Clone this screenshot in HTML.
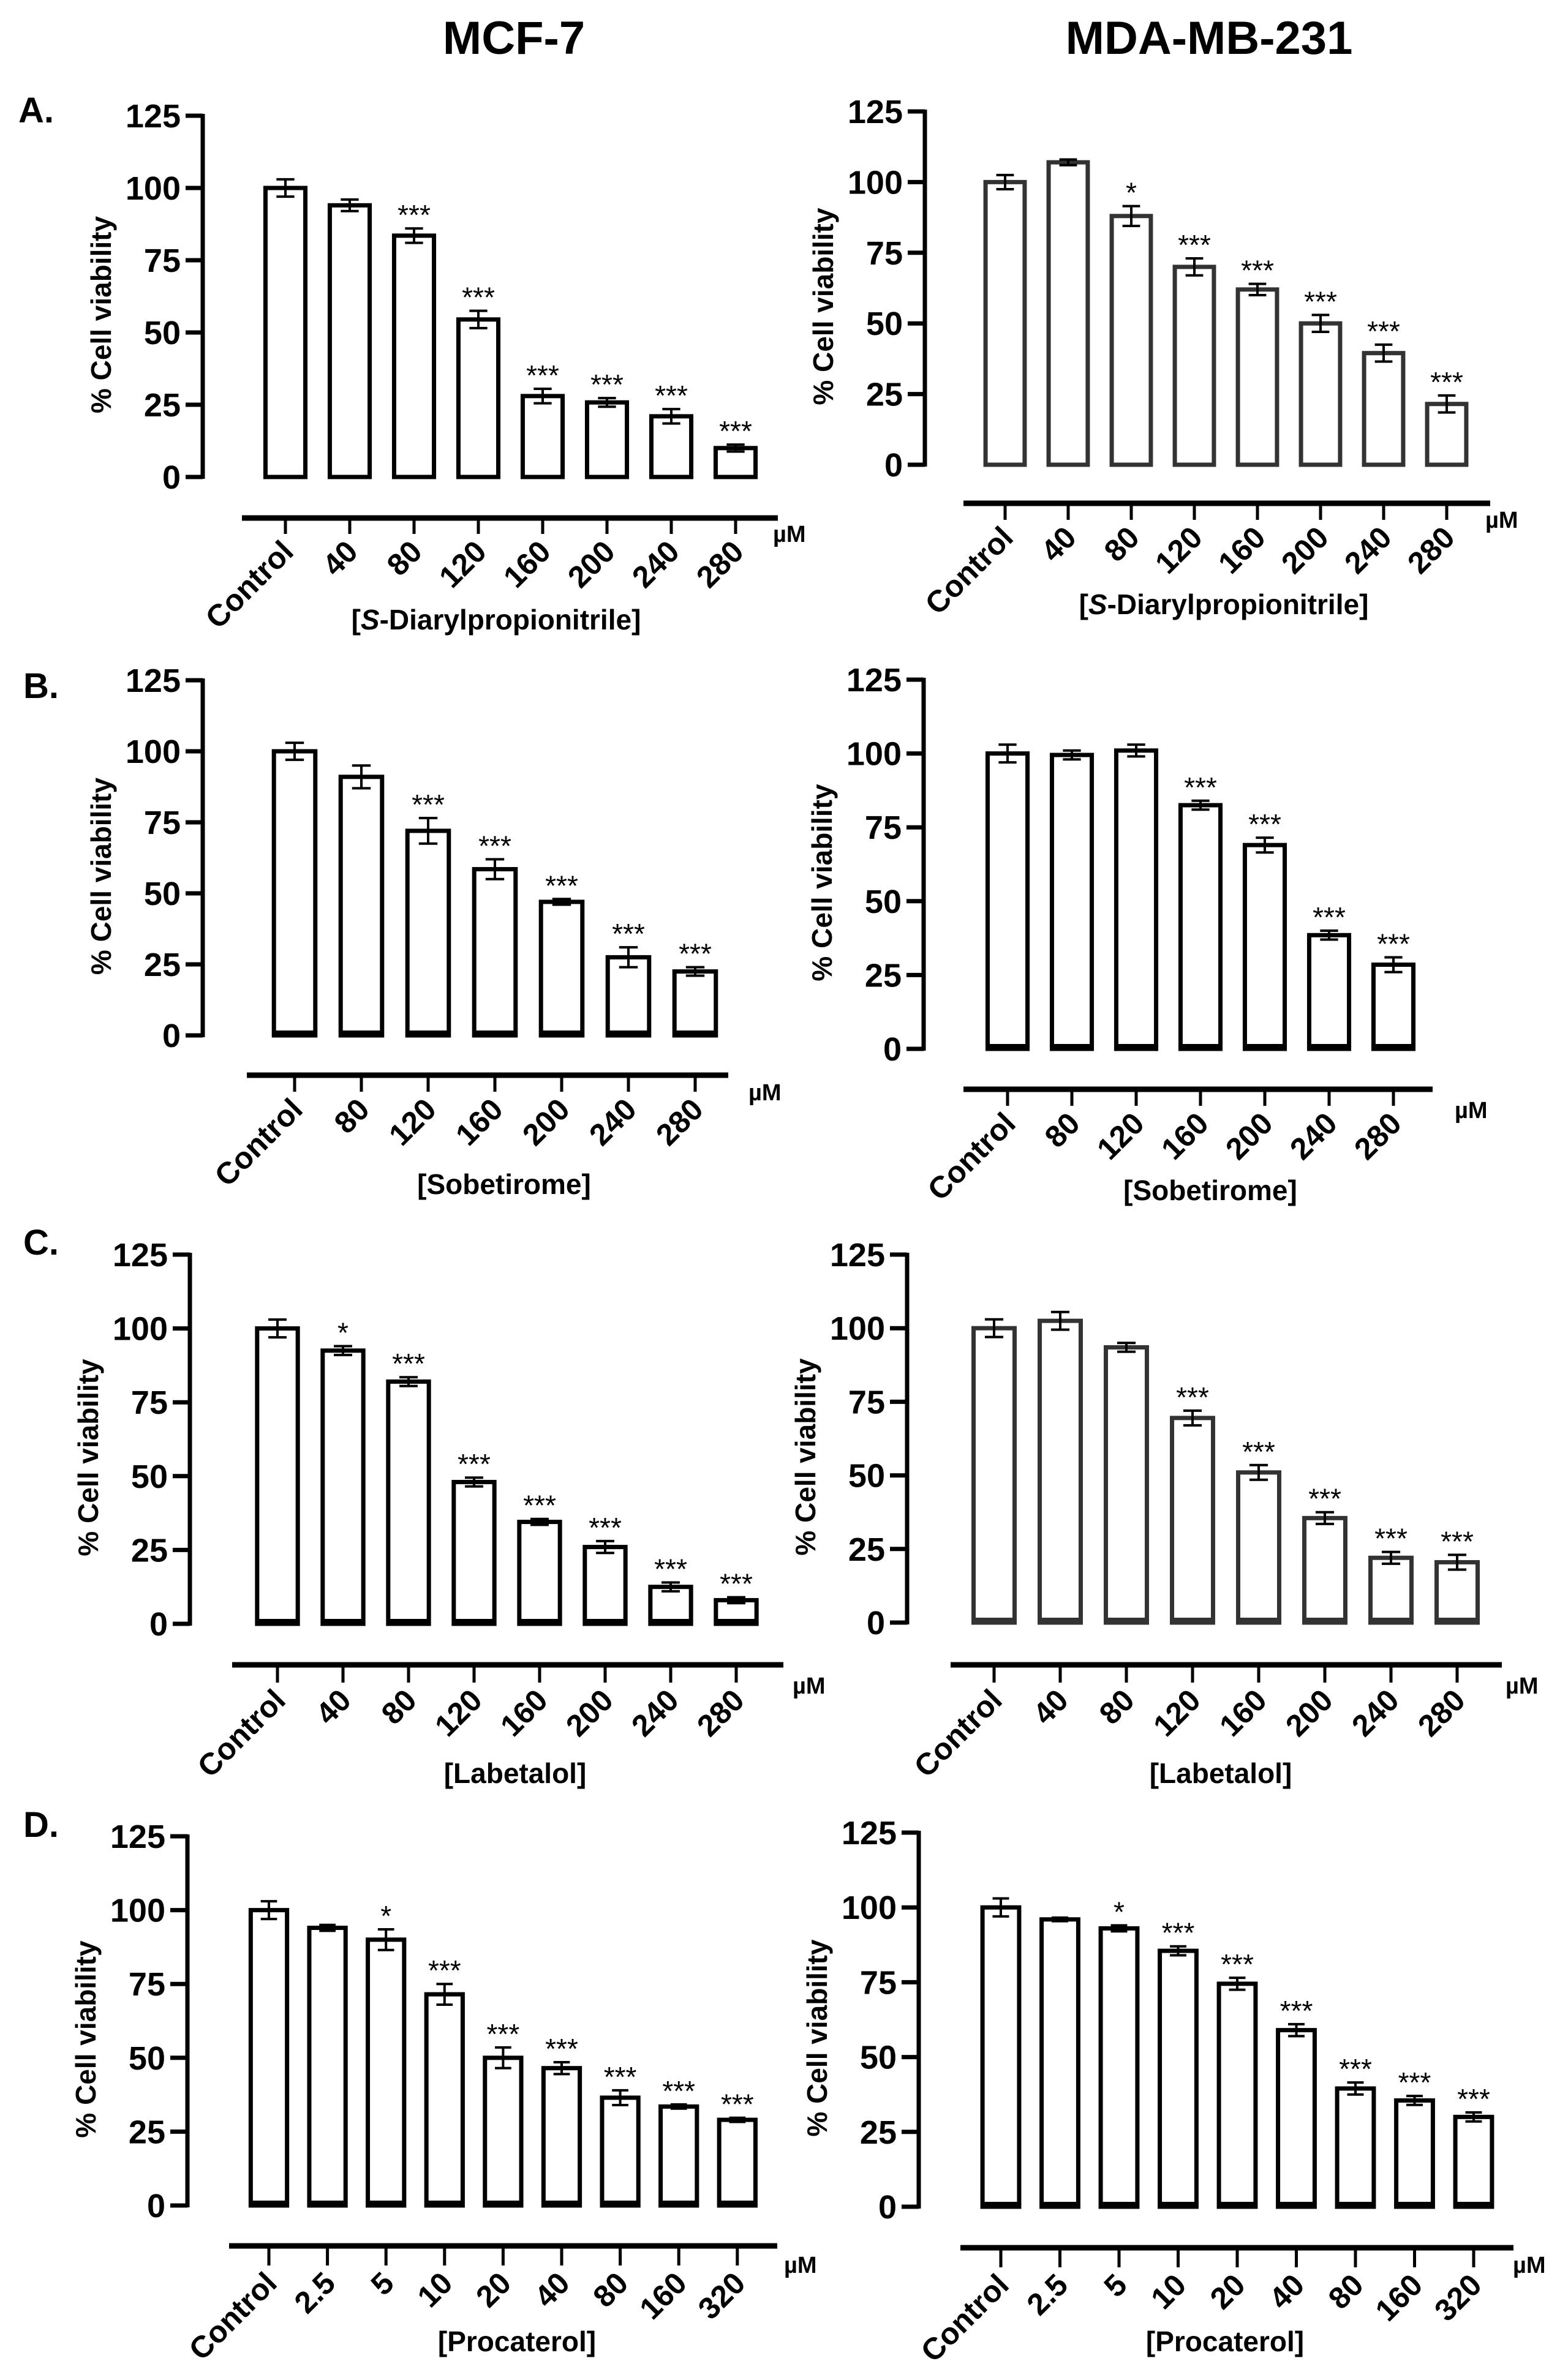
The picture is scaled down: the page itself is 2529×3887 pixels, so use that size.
<!DOCTYPE html>
<html><head><meta charset="utf-8"><style>
html,body{margin:0;padding:0;background:#fff}
svg{display:block}
text{font-family:"Liberation Sans Narrow","Liberation Sans",sans-serif}
</style></head><body>
<svg id="fig" width="2529" height="3887" viewBox="0 0 2529 3887" xmlns="http://www.w3.org/2000/svg">
<rect width="2529" height="3887" fill="#fff"/>
<text x="839" y="88" font-size="76" font-weight="bold" text-anchor="middle" style="font-family:'Liberation Sans',sans-serif">MCF-7</text>
<text x="1974" y="88" font-size="76" font-weight="bold" text-anchor="middle" style="font-family:'Liberation Sans',sans-serif">MDA-MB-231</text>
<text x="30" y="200" font-size="58" font-weight="bold" style="font-family:'Liberation Sans',sans-serif">A.</text>
<text x="38" y="1140" font-size="58" font-weight="bold" style="font-family:'Liberation Sans',sans-serif">B.</text>
<text x="38" y="2049" font-size="58" font-weight="bold" style="font-family:'Liberation Sans',sans-serif">C.</text>
<text x="38" y="3000" font-size="58" font-weight="bold" style="font-family:'Liberation Sans',sans-serif">D.</text>
</svg>
<script>
// ---- data ----
const yTicks = [0, 25, 50, 75, 100, 125];
const catsDPN = ["Control","40","80","120","160","200","240","280"];
const catsSob = ["Control","80","120","160","200","240","280"];
const catsLab = ["Control","40","80","120","160","200","240","280"];
const catsPro = ["Control","2.5","5","10","20","40","80","160","320"];

const valsAL = [100, 94, 83.5, 54.5, 28, 25.8, 21, 10];
const errsAL = [3, 2, 2.5, 3, 2.5, 1.5, 2.5, 1.2];
const sigAL  = ["", "", "***", "***", "***", "***", "***", "***"];

const valsAR = [100, 107, 88, 70, 62, 50, 39.5, 21.5];
const errsAR = [2.5, 1, 3.5, 3, 2, 3, 3, 3];
const sigAR  = ["", "", "*", "***", "***", "***", "***", "***"];

const valsBL = [100, 91, 72, 58.5, 47, 27.5, 22.5];
const errsBL = [3, 4, 4.5, 3.5, 1, 3.5, 1.5];
const sigBL  = ["", "", "***", "***", "***", "***", "***"];

const valsBR = [100, 99.5, 101, 82.5, 69, 38.5, 28.5];
const errsBR = [3, 1.5, 2, 1.5, 2.5, 1.5, 2.5];
const sigBR  = ["", "", "", "***", "***", "***", "***"];

const valsCL = [100, 92.5, 82, 48, 34.5, 26, 12.5, 8];
const errsCL = [3, 1.5, 1.5, 1.5, 1, 2, 1.5, 1];
const sigCL  = ["", "*", "***", "***", "***", "***", "***", "***"];

const valsCR = [100, 102.5, 93.5, 69.5, 51, 35.5, 22, 20.5];
const errsCR = [3, 3, 1.5, 2.5, 2.5, 2, 2, 2.5];
const sigCR  = ["", "", "", "***", "***", "***", "***", "***"];

const valsDL = [100, 94, 90, 71.5, 50, 46.5, 36.5, 33.5, 29];
const errsDL = [3, 1, 3.5, 3.5, 3.5, 2, 2.5, 0.7, 0.7];
const sigDL  = ["", "", "*", "***", "***", "***", "***", "***", "***"];

const valsDR = [100, 96, 93, 85.5, 74.5, 59, 39.5, 35.5, 30];
const errsDR = [3, 0.6, 1, 1.5, 2, 2, 2, 1.5, 1.5];
const sigDR  = ["", "", "*", "***", "***", "***", "***", "***", "***"];

// ---- layout (pixels, not data) ----
const panels = [
 {id:"a-mcf7", cats:catsDPN, vals:valsAL, errs:errsAL, sig:sigAL, ax:331, y125:189, y0:779, x0:466, dx:105, xl:[395,1270], xAxisY:846, tickB:872, title:"DPN", tx:810, ty:1028, mu:[1262,885], col:"#000", thickBase:false},
 {id:"a-mda", cats:catsDPN, vals:valsAR, errs:errsAR, sig:sigAR, ax:1510, y125:182, y0:759, x0:1641, dx:103, xl:[1573,2433], xAxisY:822, tickB:849, title:"DPN", tx:1998, ty:1003, mu:[2425,862], col:"#333", thickBase:false},
 {id:"b-mcf7", cats:catsSob, vals:valsBL, errs:errsBL, sig:sigBL, ax:331, y125:1111, y0:1691, x0:481, dx:109, xl:[403,1189], xAxisY:1756, tickB:1783, title:"[Sobetirome]", tx:823, ty:1950, mu:[1222,1797], col:"#000", thickBase:true},
 {id:"b-mda", cats:catsSob, vals:valsBR, errs:errsBR, sig:sigBR, ax:1508, y125:1110, y0:1713, x0:1645, dx:105, xl:[1573,2339], xAxisY:1779, tickB:1806, title:"[Sobetirome]", tx:1976, ty:1960, mu:[2375,1826], col:"#000", thickBase:true},
 {id:"c-mcf7", cats:catsLab, vals:valsCL, errs:errsCL, sig:sigCL, ax:310, y125:2049, y0:2652, x0:453, dx:107, xl:[379,1279], xAxisY:2719, tickB:2748, title:"[Labetalol]", tx:841, ty:2912, mu:[1294,2766], col:"#000", thickBase:true},
 {id:"c-mda", cats:catsLab, vals:valsCR, errs:errsCR, sig:sigCR, ax:1481, y125:2049, y0:2650, x0:1623, dx:108, xl:[1552,2452], xAxisY:2719, tickB:2748, title:"[Labetalol]", tx:1993, ty:2912, mu:[2458,2766], col:"#333", thickBase:true},
 {id:"d-mcf7", cats:catsPro, vals:valsDL, errs:errsDL, sig:sigDL, ax:306, y125:2999, y0:3602, x0:439, dx:95.6, xl:[374,1269], xAxisY:3668, tickB:3700, title:"[Procaterol]", tx:844, ty:3840, mu:[1280,3712], col:"#000", thickBase:true},
 {id:"d-mda", cats:catsPro, vals:valsDR, errs:errsDR, sig:sigDR, ax:1500, y125:2993, y0:3604, x0:1634, dx:96.5, xl:[1568,2471], xAxisY:3671, tickB:3703, title:"[Procaterol]", tx:2000, ty:3840, mu:[2470,3712], col:"#000", thickBase:true}
];

const NS = "http://www.w3.org/2000/svg";
const svg = document.getElementById("fig");
function mk(tag, attrs, parent){
  const e = document.createElementNS(NS, tag);
  for (const k in attrs) e.setAttribute(k, attrs[k]);
  (parent || svg).appendChild(e);
  return e;
}

panels.forEach(p => {
  const g = mk("g", {});
  
  
  const yS = v => p.y0 + (p.y125 - p.y0) * v / 125;
  const xS = i => p.x0 + i * p.dx;
  const bw = p.dx * 0.62;

  const yAx = mk("line", {x1:p.ax, y1:p.y125-3, x2:p.ax, y2:p.y0+3, stroke:"#000", "stroke-width":7}, g);
  
  
  yTicks.forEach(t => {
    const tk = mk("line", {x1:p.ax-28, y1:yS(t), x2:p.ax, y2:yS(t), stroke:"#000", "stroke-width":7}, g);
    
    
    const tl = mk("text", {x:p.ax-36, y:yS(t)+19, "font-size":54, "font-weight":"bold", "text-anchor":"end"}, g);
    tl.textContent = t;
    
    
  });
  const ymid = (p.y0 + p.y125) / 2 + 30;
  const yt = mk("text", {x:0, y:0, "font-size":46, "font-weight":"bold", "text-anchor":"middle",
    transform:`translate(${p.ax-150},${ymid}) rotate(-90)`, style:"font-family:'Liberation Sans',sans-serif"}, g);
  yt.textContent = "% Cell viability";
  
  

  p.vals.forEach((v, i) => {
    const cx = xS(i);
    const r = mk("rect", {x:cx-bw/2, y:yS(v), width:bw, height:yS(0)-yS(v), fill:"#fff", stroke:p.col, "stroke-width":7}, g);
    
    
    if (p.thickBase) {
      const bb = mk("line", {x1:cx-bw/2, y1:yS(0)-3, x2:cx+bw/2, y2:yS(0)-3, stroke:p.col, "stroke-width":10}, g);
      
      
    }
    const e = p.errs[i];
    const ew = bw * 0.45;
    const eb = mk("path", {d:`M${cx},${yS(v-e)}V${yS(v+e)}M${cx-ew/2},${yS(v+e)}H${cx+ew/2}M${cx-ew/2},${yS(v-e)}H${cx+ew/2}`,
      stroke:"#000", "stroke-width":4, fill:"none"}, g);
    
    
    if (p.sig[i]) {
      const s = mk("text", {x:cx, y:yS(v+e)-6, "font-size":46, "text-anchor":"middle", style:"font-family:'Liberation Sans',sans-serif"}, g);
      s.textContent = p.sig[i];
      
      
    }
  });

  const xa = mk("line", {x1:p.xl[0], y1:p.xAxisY, x2:p.xl[1], y2:p.xAxisY, stroke:"#000", "stroke-width":9}, g);
  
  
  p.cats.forEach((c, i) => {
    const cx = xS(i);
    const tk = mk("line", {x1:cx, y1:p.xAxisY, x2:cx, y2:p.tickB, stroke:"#000", "stroke-width":5}, g);
    
    
    const tl = mk("text", {x:0, y:0, "font-size":50, "font-weight":"bold", "text-anchor":"end",
      transform:`translate(${cx+16},${p.tickB+32}) rotate(-45)`, style:"font-family:'Liberation Sans',sans-serif"}, g);
    tl.textContent = c;
    
    
  });
  const mu = mk("text", {x:p.mu[0], y:p.mu[1], "font-size":38, "font-weight":"bold", style:"font-family:'Liberation Sans',sans-serif"}, g);
  mu.textContent = "µM";
  
  

  const xt = mk("text", {x:p.tx, y:p.ty, "font-size":46, "font-weight":"bold", "text-anchor":"middle"}, g);
  
  
  if (p.title === "DPN") {
    xt.appendChild(document.createTextNode("["));
    const it = mk("tspan", {"font-style":"italic"}, xt);
    it.textContent = "S";
    xt.appendChild(document.createTextNode("-Diarylpropionitrile]"));
  } else {
    xt.textContent = p.title;
  }
});
</script>
</body></html>
